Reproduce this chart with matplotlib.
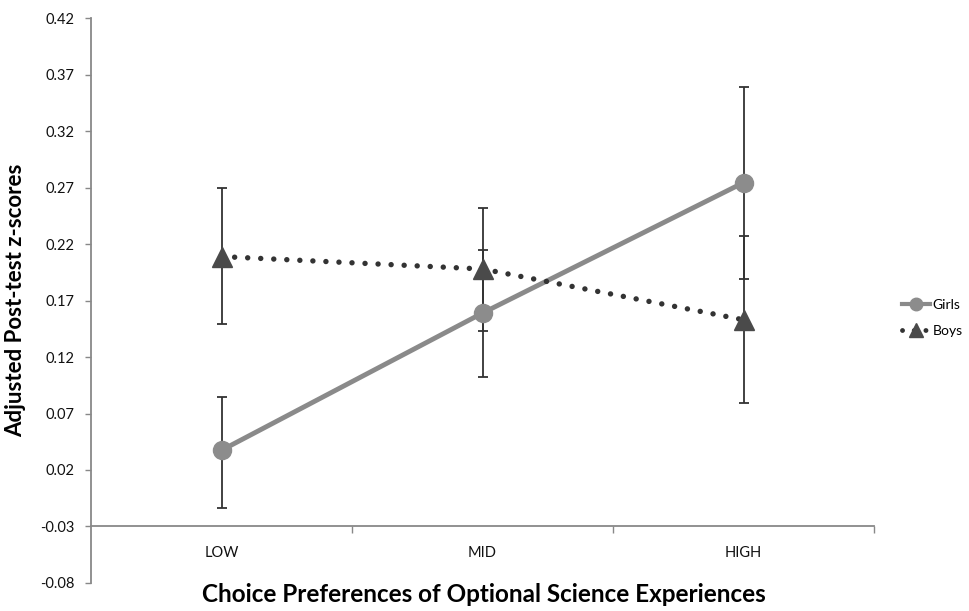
import matplotlib.pyplot as plt
from matplotlib.lines import Line2D

categories = ['LOW', 'MID', 'HIGH']

girls = [0.0375, 0.159, 0.2745]
girls_low = [-0.014, 0.102, 0.189]
girls_high = [0.085, 0.215, 0.359]

boys = [0.209, 0.198, 0.153]
boys_low = [0.149, 0.143, 0.079]
boys_high = [0.270, 0.252, 0.227]

yticks = [-0.08, -0.03, 0.02, 0.07, 0.12, 0.17, 0.22, 0.27, 0.32, 0.37, 0.42]

plt.rcParams['font.family'] = ['Lato', 'DejaVu Sans']

fig = plt.figure(figsize=(9.69, 6.11), dpi=100)
ax = fig.add_axes([0.094, 0.046, 0.808, 0.924])

x = list(range(len(categories)))
dotted = (0, (0.01, 2.4))

# error bars first so the markers sit on top
g_err = [[m - lo for m, lo in zip(girls, girls_low)],
         [hi - m for m, hi in zip(girls, girls_high)]]
b_err = [[m - lo for m, lo in zip(boys, boys_low)],
         [hi - m for m, hi in zip(boys, boys_high)]]
ax.errorbar(x, girls, yerr=g_err, fmt='none', ecolor='#333333',
            elinewidth=1.3, capsize=3.5, capthick=1.3, zorder=2)
ax.errorbar(x, boys, yerr=b_err, fmt='none', ecolor='#333333',
            elinewidth=1.3, capsize=3.5, capthick=1.3, zorder=2)

ax.plot(x, girls, color='#8a8a8a', linewidth=3.5, marker='o',
        markersize=13, markerfacecolor='#8c8c8c', markeredgecolor='#8c8c8c',
        zorder=3)
ax.plot(x, boys, color='#333333', linewidth=3.9, linestyle=dotted,
        dash_capstyle='round', marker='^', markersize=14,
        markerfacecolor='#4a4a4a', markeredgecolor='#4a4a4a', zorder=4)

ax.set_xlim(-0.5, 2.5)
ax.set_ylim(-0.08, 0.42)
ax.set_yticks(yticks)
ax.set_yticklabels(['%.2f' % v for v in yticks])

# category boundaries get tick marks, labels sit at the centres
ax.set_xticks([0.5, 1.5, 2.5])
ax.set_xticklabels([])
ax.set_xticks(x, minor=True)
ax.set_xticklabels(categories, minor=True)
ax.tick_params(axis='x', which='major', direction='out', length=5,
               color='#888888', width=1)
ax.tick_params(axis='x', which='minor', length=0, pad=14, labelsize=10.5,
               labelcolor='#111111')
ax.tick_params(axis='y', direction='out', length=4, color='#888888',
               width=1, labelsize=10.5, labelcolor='#111111', pad=8)

ax.spines['top'].set_visible(False)
ax.spines['right'].set_visible(False)
ax.spines['left'].set_color('#888888')
ax.spines['left'].set_linewidth(1.3)
ax.spines['bottom'].set_position(('data', -0.03))
ax.spines['bottom'].set_color('#888888')
ax.spines['bottom'].set_linewidth(1.3)

ax.set_ylabel('Adjusted Post-test z-scores', fontsize=16, fontweight='bold',
              labelpad=10)
fig.text(0.499, 0.008, 'Choice Preferences of Optional Science Experiences',
         ha='center', va='bottom', fontsize=17.5, fontweight='bold')

handles = [
    Line2D([], [], color='#8a8a8a', linewidth=3, marker='o', markersize=9,
           markerfacecolor='#8c8c8c', markeredgecolor='#8c8c8c'),
    Line2D([], [], color='#333333', linewidth=3.5, linestyle=dotted,
           dash_capstyle='round', marker='^', markersize=10,
           markerfacecolor='#4a4a4a', markeredgecolor='#4a4a4a'),
]
fig.legend(handles, ['Girls', 'Boys'], loc='center left',
           bbox_to_anchor=(0.918, 0.48), frameon=False, fontsize=10,
           handlelength=2.0, handletextpad=0.2, labelspacing=1.0)

plt.savefig('out.png', dpi=100)
